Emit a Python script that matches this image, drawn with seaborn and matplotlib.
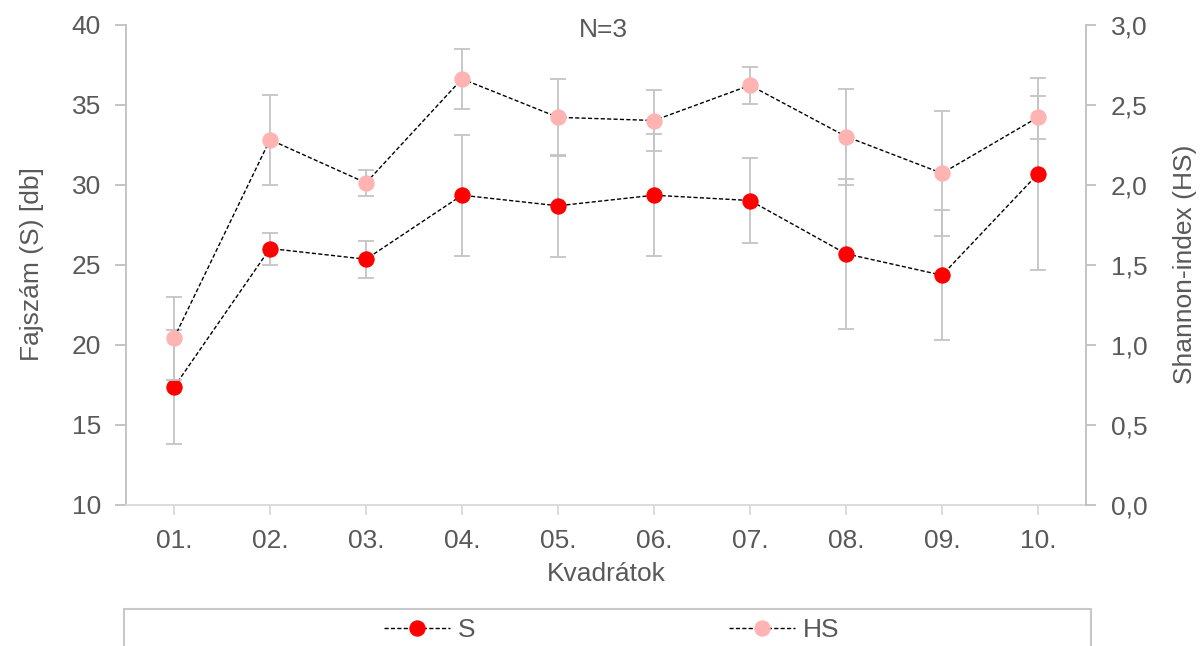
import numpy as np
import pandas as pd
import seaborn as sns
import matplotlib
matplotlib.use("Agg")
import matplotlib.pyplot as plt
from matplotlib.patches import Rectangle
from matplotlib.ticker import FuncFormatter, FixedLocator

# Quadrats (Kvadrátok)
quadrats = ["01.", "02.", "03.", "04.", "05.", "06.", "07.", "08.", "09.", "10."]

# Species richness S (mean of N=3) and its standard deviation
s_mean = [17.33, 26.00, 25.33, 29.33, 28.67, 29.33, 29.00, 25.67, 24.33, 30.67]
s_sd = [3.57, 1.00, 1.15, 3.78, 3.20, 3.80, 2.65, 4.70, 4.05, 6.00]

# Shannon index HS (mean of N=3) and its standard deviation
hs_mean = [1.04, 2.28, 2.01, 2.66, 2.42, 2.40, 2.62, 2.30, 2.07, 2.42]
hs_sd = [0.26, 0.28, 0.08, 0.19, 0.24, 0.19, 0.115, 0.30, 0.39, 0.133]

TEXT = "#595959"
SPINE = "#bfbfbf"
ERR = "#c4c4c4"
RED = "#ff0000"
PINK = "#ffb3b3"
FS = 19

sns.set_theme(style="white")
plt.rcParams["font.family"] = ["Liberation Sans", "DejaVu Sans"]

df = pd.DataFrame({
    "pos": np.arange(len(quadrats)),
    "S": s_mean, "S_sd": s_sd,
    "HS": hs_mean, "HS_sd": hs_sd,
})

fig = plt.figure(figsize=(12, 6.46), dpi=100)
ax = fig.add_axes([126 / 1200, 1 - 504.5 / 646, 960 / 1200, 480 / 646])
ax2 = ax.twinx()

dash = (0, (3, 1.6))

# Species richness on the left axis
ax.errorbar(df["pos"], df["S"], yerr=df["S_sd"], fmt="none", ecolor=ERR,
            elinewidth=1.3, capsize=5.5, capthick=1.3, zorder=1)
sns.lineplot(data=df, x="pos", y="S", ax=ax, color="black", linewidth=1.0,
             linestyle=dash, marker="o", markersize=11, markerfacecolor=RED,
             markeredgecolor=RED, legend=False, zorder=3)
s_handle = ax.lines[-1]

# Shannon index on the right axis
ax2.errorbar(df["pos"], df["HS"], yerr=df["HS_sd"], fmt="none", ecolor=ERR,
             elinewidth=1.3, capsize=5.5, capthick=1.3, zorder=1)
sns.lineplot(data=df, x="pos", y="HS", ax=ax2, color="black", linewidth=1.0,
             linestyle=dash, marker="o", markersize=11, markerfacecolor=PINK,
             markeredgecolor=PINK, legend=False, zorder=3)
hs_handle = ax2.lines[-1]

# Axis limits and ticks
ax.set_xlim(-0.5, len(quadrats) - 0.5)
ax.set_ylim(10, 40)
ax.set_yticks(np.arange(10, 41, 5))
ax2.set_ylim(0, 3.0)
ax2.set_yticks(np.arange(0, 3.01, 0.5))
ax2.yaxis.set_major_formatter(FuncFormatter(lambda v, p: f"{v:.1f}".replace(".", ",")))
ax.xaxis.set_major_locator(FixedLocator(df["pos"]))
ax.set_xticklabels(quadrats)

for a in (ax, ax2):
    a.spines["top"].set_visible(False)
    for side in ("left", "right", "bottom"):
        a.spines[side].set_color(SPINE)
        a.spines[side].set_linewidth(1.3)
    a.tick_params(colors=TEXT, labelsize=FS)
    a.grid(False)

ax.spines["right"].set_visible(False)
ax2.spines["left"].set_visible(False)
ax2.spines["bottom"].set_visible(False)
ax.spines["bottom"].set_color("#d9d9d9")

ax.tick_params(axis="y", which="major", direction="out", length=8, width=1.3,
               color=SPINE, pad=10, left=True)
ax.tick_params(axis="x", which="major", direction="out", length=7, width=1.3,
               color="#d9d9d9", pad=11, bottom=True)
ax2.tick_params(axis="y", which="major", direction="out", length=7, width=1.3,
                color=SPINE, pad=11, right=True)

ax.set_xlabel("Kvadrátok", fontsize=FS, color=TEXT, labelpad=6)
ax.set_ylabel("Fajszám (S) [db]", fontsize=FS, color=TEXT, labelpad=20)
ax2.set_ylabel("Shannon-index (HS)", fontsize=FS, color=TEXT, labelpad=18)

fig.text(603 / 1200, 1 - 30 / 646, "N=3", fontsize=FS, color=TEXT,
         ha="center", va="center")

# Legend box along the bottom edge
fig.patches.append(Rectangle((124 / 1200, -0.05), (1091 - 124) / 1200, 0.05 + (1 - 609 / 646),
                             transform=fig.transFigure, fill=False,
                             edgecolor="#c8c8c8", linewidth=1.5))
fig.legend([s_handle, hs_handle], ["S", "HS"], loc="center",
           bbox_to_anchor=(612 / 1200, 1 - 630 / 646), ncol=2, frameon=False,
           fontsize=FS, labelcolor=TEXT, handlelength=2.5, handletextpad=0.3,
           columnspacing=9.6, borderpad=0)

fig.savefig("out.png", dpi=100)
